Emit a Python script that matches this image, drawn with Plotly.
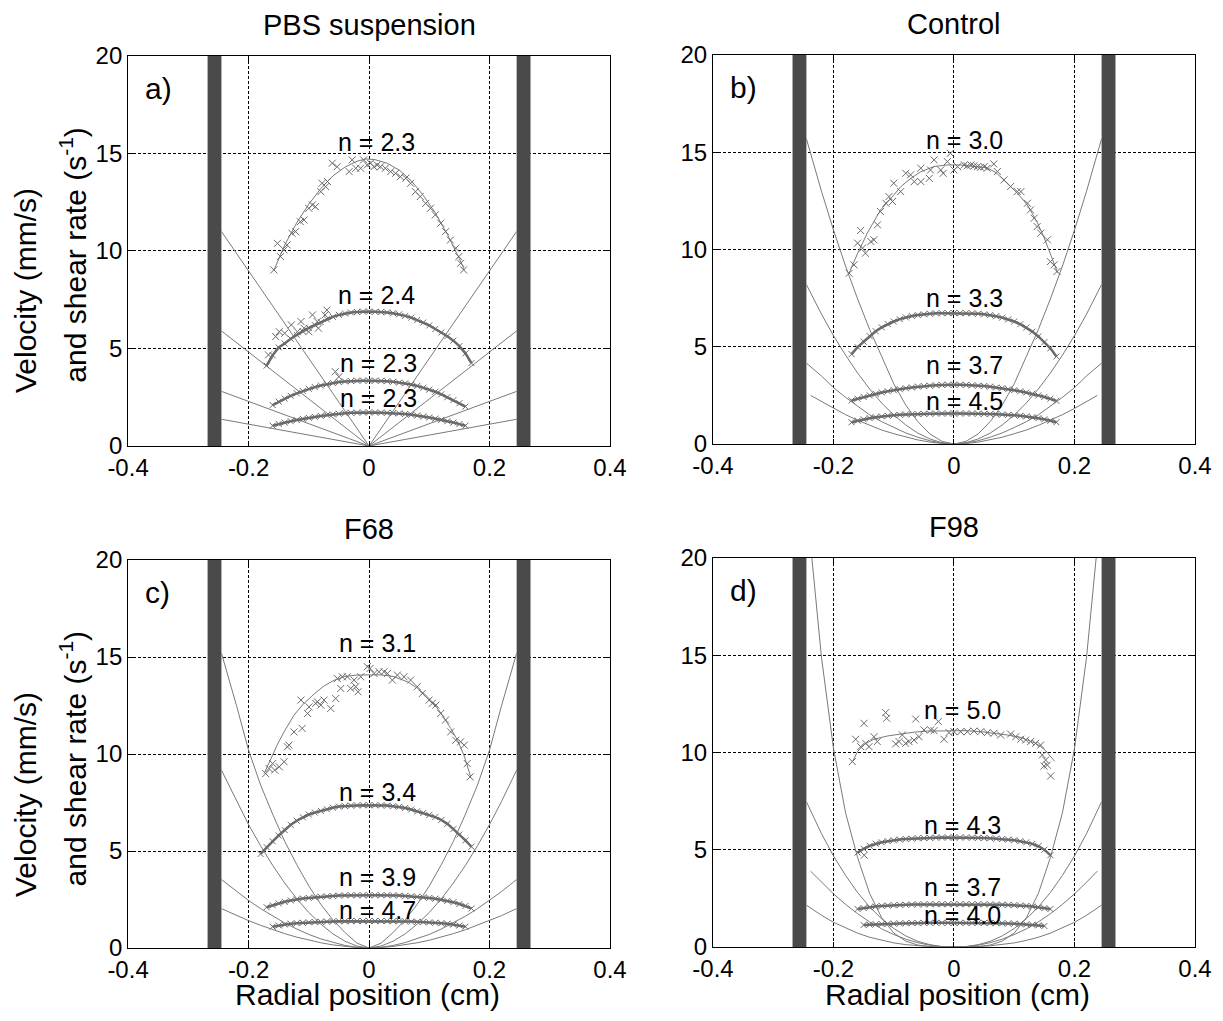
import plotly.graph_objects as go

# ---------------------------------------------------------------- axes / text
X_RANGE = [-0.4, 0.4]
Y_RANGE = [0, 20]
X_TICKS = [-0.4, -0.2, 0, 0.2, 0.4]
X_TICK_TEXT = ["-0.4", "-0.2", "0", "0.2", "0.4"]
Y_TICKS = [0, 5, 10, 15, 20]
Y_TICK_TEXT = ["0", "5", "10", "15", "20"]

PANEL_TITLES = ["PBS suspension", "Control", "F68", "F98"]
PANEL_LETTERS = ["a)", "b)", "c)", "d)"]
X_TITLE = "Radial position (cm)"
Y_TITLE_1 = "Velocity (mm/s)"
Y_TITLE_2 = "and shear rate (s<sup>-1</sup>)"

# channel walls (cm)
WALLS = [[-0.268, -0.245], [0.245, 0.268]]

# ---------------------------------------------------------------- radial grids
R15 = [-0.15, -0.14, -0.13, -0.12, -0.11, -0.10, -0.09, -0.08, -0.07, -0.06, -0.05,
       -0.04, -0.03, -0.02, -0.01, 0.0, 0.01, 0.02, 0.03, 0.04, 0.05, 0.06, 0.07,
       0.08, 0.09, 0.10, 0.11, 0.12, 0.13, 0.14, 0.15]
R16 = [-0.16] + R15 + [0.16]
R17 = [-0.17] + R16 + [0.17]
R18 = [-0.18] + R17

SHEAR_X = [-0.245, -0.22, -0.2, -0.18, -0.16, -0.14, -0.12, -0.1, -0.08, -0.06, -0.04,
           -0.02, 0.0, 0.02, 0.04, 0.06, 0.08, 0.1, 0.12, 0.14, 0.16, 0.18, 0.2, 0.22, 0.245]
SHEAR_X_IN = [-0.238, -0.22, -0.2, -0.18, -0.16, -0.14, -0.12, -0.1, -0.08, -0.06, -0.04,
              -0.02, 0.0, 0.02, 0.04, 0.06, 0.08, 0.1, 0.12, 0.14, 0.16, 0.18, 0.2, 0.22, 0.238]
SHEAR_X_LIN = [-0.245, 0.0, 0.245]

# ---------------------------------------------------------------- a) PBS suspension
A1_X = [-0.158, -0.152, -0.147, -0.141, -0.136, -0.128, -0.122, -0.114, -0.108, -0.1,
        -0.094, -0.089, -0.080, -0.078, -0.072, -0.069, -0.061, -0.053, -0.033, -0.028,
        -0.022, -0.014, -0.009, -0.003, 0.0025, 0.008, 0.0135, 0.019, 0.027, 0.036,
        0.044, 0.052, 0.061, 0.069, 0.077, 0.085, 0.094, 0.102, 0.110, 0.119, 0.127,
        0.135, 0.144, 0.149, 0.152, 0.157]
A1_Y = [9.03, 10.39, 9.71, 10.05, 10.31, 10.91, 10.99, 11.50, 11.59, 12.19,
        12.36, 12.27, 13.04, 13.47, 13.30, 13.56, 14.50, 14.32, 14.07, 14.67,
        14.24, 14.24, 14.67, 14.41, 14.50, 14.32, 14.41, 14.32, 14.24, 14.07,
        13.98, 13.81, 13.73, 13.47, 13.04, 12.79, 12.44, 12.19, 11.85, 11.42, 10.99,
        10.56, 10.14, 9.71, 9.37, 9.03]
A1_FIT_X = [-0.158, -0.14, -0.12, -0.1, -0.08, -0.06, -0.04, -0.02, -0.005, 0.01, 0.03,
            0.05, 0.07, 0.09, 0.11, 0.13, 0.15, 0.158]
A1_FIT_Y = [9.0, 10.3, 11.45, 12.4, 13.2, 13.85, 14.3, 14.6, 14.72, 14.68, 14.5,
            14.15, 13.6, 12.85, 11.95, 10.85, 9.6, 9.05]
A2_Y = [4.12, 4.65, 5.05, 5.25, 5.5, 5.7, 5.88, 6.05, 6.2, 6.35, 6.5, 6.62, 6.72, 6.79,
        6.84, 6.87, 6.89, 6.89, 6.88, 6.87, 6.85, 6.81, 6.75, 6.67, 6.58, 6.46, 6.33,
        6.18, 6.0, 5.82, 5.63, 5.4, 5.12, 4.75, 4.25]
A2_EXTRA_X = [-0.167, -0.155, -0.149, -0.14, -0.129, -0.119, -0.113, -0.108, -0.1,
              -0.094, -0.086, -0.084, -0.073, -0.07]
A2_EXTRA_Y = [4.67, 5.61, 5.86, 5.78, 6.21, 5.86, 6.38, 6.04, 5.86, 6.72, 6.38, 6.04,
              6.72, 6.97]
A3_Y = [2.1, 2.27, 2.43, 2.57, 2.7, 2.82, 2.93, 3.02, 3.1, 3.17, 3.23, 3.28, 3.31, 3.33,
        3.35, 3.35, 3.35, 3.35, 3.34, 3.32, 3.29, 3.25, 3.21, 3.15, 3.08, 2.99, 2.89,
        2.78, 2.65, 2.5, 2.35, 2.19, 2.02]
A3_EXTRA_X = [-0.056, -0.05]
A3_EXTRA_Y = [3.81, 3.55]
A4_Y = [1.04, 1.13, 1.2, 1.27, 1.33, 1.39, 1.44, 1.49, 1.54, 1.58, 1.62, 1.65, 1.68, 1.7,
        1.71, 1.72, 1.72, 1.72, 1.71, 1.7, 1.69, 1.67, 1.64, 1.6, 1.56, 1.51, 1.46, 1.4,
        1.34, 1.27, 1.2, 1.12, 1.04]
A_SHEAR = [[11.0, 0.0, 11.0], [5.9, 0.0, 5.9], [2.8, 0.0, 2.8], [1.37, 0.0, 1.37]]
A_N = ["n = 2.3", "n = 2.4", "n = 2.3", "n = 2.3"]
A_N_POS = [[0.013, 15.6], [0.013, 7.74], [0.016, 4.24], [0.016, 2.45]]

# ---------------------------------------------------------------- b) Control
B1_X = [-0.174, -0.166, -0.155, -0.160, -0.152, -0.147, -0.138, -0.133, -0.127, -0.122,
        -0.113, -0.108, -0.102, -0.100, -0.0885, -0.080, -0.072, -0.066, -0.055, -0.055,
        -0.041, -0.039, -0.033, -0.022, -0.018, -0.011, -0.006, 0.0, 0.006, 0.017,
        0.022, 0.028, 0.033, 0.039, 0.044, 0.050, 0.055, 0.066, 0.072, 0.083, 0.094,
        0.105, 0.111, 0.122, 0.127, 0.133, 0.138, 0.144, 0.155, 0.160, 0.166, 0.171]
B1_Y = [8.78, 9.21, 10.98, 10.33, 10.07, 9.81, 10.41, 10.50, 11.27, 11.95,
        12.38, 12.72, 12.47, 13.41, 12.98, 13.92, 13.84, 13.49, 13.49, 14.18,
        13.66, 14.09, 14.61, 14.09, 13.92, 14.52, 14.95, 14.09, 14.26, 14.35,
        14.30, 14.35, 14.30, 14.26, 14.23, 14.26, 14.18, 14.40, 14.01, 13.58, 13.24,
        12.98, 12.98, 12.38, 12.04, 11.61, 11.18, 10.84, 10.50, 9.38, 9.21, 8.87]
B1_FIT_X = [-0.174, -0.16, -0.144, -0.122, -0.1, -0.0885, -0.07, -0.055, -0.033, -0.01,
            0.01, 0.03, 0.055, 0.07, 0.088, 0.105, 0.122, 0.138, 0.149, 0.16, 0.172]
B1_FIT_Y = [8.8, 9.8, 10.84, 12.03, 12.8, 13.23, 13.7, 14.0, 14.27, 14.35,
            14.35, 14.3, 14.2, 13.95, 13.4, 12.9, 12.29, 11.4, 10.66, 9.8, 8.8]
B2_Y = [4.62, 4.98, 5.26, 5.55, 5.8, 6.0, 6.17, 6.3, 6.42, 6.51, 6.58, 6.63, 6.67, 6.7,
        6.72, 6.73, 6.73, 6.73, 6.73, 6.73, 6.72, 6.7, 6.67, 6.63, 6.57, 6.5, 6.41, 6.3,
        6.16, 5.99, 5.78, 5.53, 5.24, 4.92, 4.5]
B3_Y = [2.24, 2.33, 2.42, 2.5, 2.58, 2.65, 2.71, 2.77, 2.82, 2.87, 2.91, 2.95, 2.98, 3.0,
        3.02, 3.04, 3.05, 3.05, 3.05, 3.04, 3.02, 3.0, 2.98, 2.95, 2.91, 2.87, 2.82, 2.77,
        2.71, 2.65, 2.58, 2.5, 2.42, 2.33, 2.22]
B4_Y = [1.12, 1.2, 1.27, 1.33, 1.38, 1.42, 1.45, 1.48, 1.5, 1.52, 1.53, 1.54, 1.55, 1.56,
        1.57, 1.57, 1.57, 1.57, 1.57, 1.57, 1.57, 1.56, 1.55, 1.54, 1.53, 1.52, 1.5, 1.48,
        1.45, 1.42, 1.38, 1.33, 1.27, 1.2, 1.12]
B_SHEAR_1 = [15.7, 13.0, 11.0, 9.15, 7.46, 5.89, 4.5, 3.1, 2.0, 1.15, 0.52, 0.14, 0.0,
             0.14, 0.52, 1.15, 2.0, 3.1, 4.5, 5.89, 7.46, 9.15, 11.0, 13.0, 15.7]
B_SHEAR_2 = [8.2, 6.68, 5.57, 4.57, 3.65, 2.83, 2.11, 1.49, 0.98, 0.56, 0.26, 0.07, 0.0,
             0.07, 0.26, 0.56, 0.98, 1.49, 2.11, 2.83, 3.65, 4.57, 5.57, 6.68, 8.2]
B_SHEAR_3 = [4.16, 3.5, 2.9, 2.4, 1.95, 1.5, 1.15, 0.85, 0.57, 0.35, 0.17, 0.05, 0.0,
             0.05, 0.17, 0.35, 0.57, 0.85, 1.15, 1.5, 1.95, 2.4, 2.9, 3.5, 4.16]
B_SHEAR_4 = [2.5, 2.18, 1.83, 1.51, 1.22, 0.96, 0.72, 0.53, 0.35, 0.21, 0.10, 0.03, 0.0,
             0.03, 0.10, 0.21, 0.35, 0.53, 0.72, 0.96, 1.22, 1.51, 1.83, 2.18, 2.5]
B_N = ["n = 3.0", "n = 3.3", "n = 3.7", "n = 4.5"]
B_N_POS = [[0.017, 15.63], [0.017, 7.5], [0.017, 4.08], [0.017, 2.19]]

# ---------------------------------------------------------------- c) F68
C1_X = [-0.1715, -0.166, -0.160, -0.1566, -0.149, -0.141, -0.1355, -0.133, -0.1245,
        -0.111, -0.113, -0.102, -0.0996, -0.0885, -0.080, -0.0858, -0.0747, -0.0636,
        -0.0553, -0.0526, -0.047, -0.0443, -0.036, -0.0304, -0.0221, -0.0183, -0.0249,
        -0.0138, -0.0028, 0.0017, 0.0083, 0.0166, 0.0249, 0.0304, 0.0387, 0.047, 0.058,
        0.069, 0.080, 0.0885, 0.0996, 0.105, 0.111, 0.119, 0.127, 0.1355, 0.144, 0.152,
        0.158, 0.163, 0.1676]
C1_Y = [8.99, 9.25, 9.51, 9.17, 9.34, 9.60, 10.37, 10.46, 11.14,
        11.32, 12.78, 12.09, 12.43, 12.61, 12.52, 12.69, 12.78, 12.35,
        12.86, 13.89, 13.38, 13.98, 13.98, 13.38, 13.47, 13.21, 13.81,
        13.98, 14.50, 14.41, 14.15, 14.24, 14.24, 14.15, 13.81, 14.07, 13.98,
        13.81, 13.47, 13.12, 12.78, 12.61, 12.52, 12.09, 11.75, 11.14, 10.71, 10.63,
        10.46, 9.51, 8.82]
C1_FIT_X = [-0.174, -0.16, -0.152, -0.14, -0.1245, -0.11, -0.091, -0.075, -0.058, -0.04,
            -0.02, 0.0, 0.02, 0.04, 0.064, 0.08, 0.097, 0.11, 0.124, 0.136, 0.147, 0.158,
            0.169]
C1_FIT_Y = [9.0, 10.0, 10.5, 11.2, 12.0, 12.55, 13.1, 13.5, 13.8, 14.0,
            14.07, 14.08, 14.08, 14.0, 13.72, 13.4, 12.95, 12.5, 11.9, 11.3, 10.7, 9.9,
            8.8]
C2_Y = [4.85, 5.2, 5.5, 5.8, 6.08, 6.35, 6.56, 6.74, 6.88, 6.98, 7.07, 7.15, 7.23, 7.29,
        7.32, 7.34, 7.35, 7.36, 7.36, 7.36, 7.35, 7.34, 7.31, 7.28, 7.22, 7.14, 7.05,
        6.96, 6.86, 6.75, 6.6, 6.4, 6.13, 5.85, 5.55, 5.22]
C3_Y = [2.1, 2.2, 2.3, 2.38, 2.45, 2.51, 2.55, 2.58, 2.61, 2.64, 2.66, 2.68, 2.7, 2.71,
        2.72, 2.72, 2.72, 2.72, 2.72, 2.72, 2.72, 2.71, 2.7, 2.68, 2.66, 2.64, 2.61, 2.58,
        2.54, 2.49, 2.43, 2.36, 2.27, 2.17, 2.04]
C4_Y = [1.1, 1.16, 1.21, 1.25, 1.28, 1.3, 1.32, 1.34, 1.35, 1.36, 1.37, 1.38, 1.38, 1.39,
        1.39, 1.39, 1.39, 1.39, 1.39, 1.39, 1.38, 1.38, 1.37, 1.36, 1.35, 1.34, 1.32, 1.3,
        1.28, 1.25, 1.21, 1.16, 1.1]
C_SHEAR_1 = [15.2, 12.5, 10.2, 8.4, 6.9, 5.5, 4.3, 3.2, 2.25, 1.45, 0.8, 0.25, 0.0,
             0.25, 0.8, 1.45, 2.25, 3.2, 4.3, 5.5, 6.9, 8.4, 10.2, 12.5, 15.2]
C_SHEAR_2 = [9.17, 7.56, 6.36, 5.27, 4.26, 3.35, 2.54, 1.83, 1.23, 0.73, 0.35, 0.1, 0.0,
             0.1, 0.35, 0.73, 1.23, 1.83, 2.54, 3.35, 4.26, 5.27, 6.36, 7.56, 9.17]
C_SHEAR_3 = [3.53, 2.91, 2.45, 2.03, 1.64, 1.29, 0.98, 0.70, 0.47, 0.28, 0.13, 0.04, 0.0,
             0.04, 0.13, 0.28, 0.47, 0.70, 0.98, 1.29, 1.64, 2.03, 2.45, 2.91, 3.53]
C_SHEAR_4 = [2.03, 1.67, 1.41, 1.17, 0.94, 0.74, 0.56, 0.40, 0.27, 0.16, 0.08, 0.02, 0.0,
             0.02, 0.08, 0.16, 0.27, 0.40, 0.56, 0.74, 0.94, 1.17, 1.41, 1.67, 2.03]
C_N = ["n = 3.1", "n = 3.4", "n = 3.9", "n = 4.7"]
C_N_POS = [[0.014, 15.7], [0.014, 8.05], [0.014, 3.66], [0.014, 1.94]]

# ---------------------------------------------------------------- d) F98
D1_X = [-0.1687, -0.1632, -0.1549, -0.1494, -0.1466, -0.1411, -0.1328, -0.1273, -0.1134,
        -0.1118, -0.0968, -0.0913, -0.0858, -0.0802, -0.0747, -0.0664, -0.0581, -0.0636,
        -0.0498, -0.0387, -0.0332, -0.026, -0.0166, -0.0083, 0.0, 0.011, 0.0221, 0.0332,
        0.0443, 0.0553, 0.0664, 0.0775, 0.094, 0.1024, 0.1107, 0.119, 0.1272, 0.1355,
        0.1438, 0.1466, 0.1521, 0.1549, 0.1494, 0.1604]
D1_Y = [9.53, 10.68, 10.30, 11.50, 10.47, 10.30, 10.81, 10.56, 12.05,
        11.76, 10.44, 10.56, 10.90, 10.47, 10.56, 10.64, 10.81, 11.72,
        11.16, 11.16, 11.12, 11.59, 10.68, 11.02, 11.07, 11.07, 11.07, 11.10,
        11.07, 11.02, 10.99, 10.90, 10.95, 10.81, 10.68, 10.64, 10.56, 10.47,
        10.38, 9.87, 9.61, 9.35, 9.30, 8.79]
D1_FIT_X = [-0.169, -0.16, -0.15, -0.133, -0.11, -0.0885, -0.065, -0.044, -0.02, 0.0,
            0.02, 0.044, 0.065, 0.0885, 0.11, 0.122, 0.135, 0.144, 0.152, 0.158, 0.167]
D1_FIT_Y = [9.5, 10.05, 10.4, 10.68, 10.85, 10.95, 11.05, 11.1, 11.12, 11.12,
            11.12, 11.07, 11.0, 10.9, 10.78, 10.64, 10.48, 10.3, 10.1, 9.87, 9.55]
D2_Y = [4.85, 5.05, 5.2, 5.31, 5.38, 5.44, 5.49, 5.52, 5.55, 5.57, 5.59, 5.6, 5.61, 5.62,
        5.63, 5.63, 5.63, 5.63, 5.63, 5.62, 5.61, 5.6, 5.59, 5.57, 5.55, 5.52, 5.49, 5.44,
        5.38, 5.3, 5.18, 5.0, 4.72]
D2_EXTRA_X = [-0.149]
D2_EXTRA_Y = [4.72]
D3_Y = [1.95, 2.0, 2.04, 2.08, 2.11, 2.13, 2.15, 2.16, 2.17, 2.18, 2.19, 2.19, 2.2, 2.2,
        2.2, 2.2, 2.2, 2.2, 2.2, 2.2, 2.2, 2.19, 2.19, 2.18, 2.17, 2.16, 2.15, 2.13,
        2.11, 2.08, 2.04, 2.0, 1.95]
D4_Y = [1.13, 1.15, 1.17, 1.18, 1.19, 1.2, 1.21, 1.22, 1.23, 1.23, 1.24, 1.24, 1.24, 1.24,
        1.24, 1.24, 1.24, 1.24, 1.24, 1.24, 1.24, 1.23, 1.23, 1.22, 1.21, 1.2, 1.18, 1.16,
        1.14, 1.11, 1.08]
D_SHEAR_1 = [22.9, 14.9, 10.2, 6.9, 4.6, 2.75, 1.5, 0.72, 0.3, 0.1, 0.02, 0.0, 0.0,
             0.0, 0.02, 0.1, 0.3, 0.72, 1.5, 2.75, 4.6, 6.9, 10.2, 14.9, 22.9]
D_SHEAR_2 = [7.47, 5.83, 4.68, 3.68, 2.8, 2.06, 1.45, 0.95, 0.57, 0.29, 0.12, 0.02, 0.0,
             0.02, 0.12, 0.29, 0.57, 0.95, 1.45, 2.06, 2.8, 3.68, 4.68, 5.83, 7.47]
D_SHEAR_3 = [3.9, 3.33, 2.73, 2.19, 1.71, 1.29, 0.93, 0.64, 0.40, 0.22, 0.09, 0.02, 0.0,
             0.02, 0.09, 0.22, 0.40, 0.64, 0.93, 1.29, 1.71, 2.19, 2.73, 3.33, 3.9]
D_SHEAR_4 = [2.15, 1.63, 1.27, 0.97, 0.71, 0.50, 0.34, 0.21, 0.12, 0.06, 0.02, 0.0, 0.0,
             0.0, 0.02, 0.06, 0.12, 0.21, 0.34, 0.50, 0.71, 0.97, 1.27, 1.63, 2.15]
D_N = ["n = 5.0", "n = 4.3", "n = 3.7", "n = 4.0"]
D_N_POS = [[0.014, 12.19], [0.014, 6.27], [0.014, 3.09], [0.014, 1.63]]

# ---------------------------------------------------------------- styling
FONT = "Liberation Sans, Arial, Helvetica, sans-serif"
INK = "#000000"
MARK_GRAY = "#6a6a6a"
LINE_GRAY = "#7a7a7a"
WALL_FILL = "#4a4a4a"

PANELS = [
    dict(
        top=(A1_X, A1_Y, A1_FIT_X, A1_FIT_Y),
        bands=[(R17, A2_Y), (R16, A3_Y), (R16, A4_Y)],
        extras=[(A2_EXTRA_X, A2_EXTRA_Y), (A3_EXTRA_X, A3_EXTRA_Y)],
        shear=[(SHEAR_X_LIN, s) for s in A_SHEAR],
        labels=A_N, label_pos=A_N_POS,
        dom_x=[0.1047, 0.4988], dom_y=[0.5632, 0.9452],
    ),
    dict(
        top=(B1_X, B1_Y, B1_FIT_X, B1_FIT_Y),
        bands=[(R17, B2_Y), (R17, B3_Y), (R17, B4_Y)],
        extras=[],
        shear=[(SHEAR_X, B_SHEAR_1), (SHEAR_X, B_SHEAR_2), (SHEAR_X, B_SHEAR_3),
               (SHEAR_X_IN, B_SHEAR_4)],
        labels=B_N, label_pos=B_N_POS,
        dom_x=[0.583, 0.9771], dom_y=[0.5651, 0.9461],
    ),
    dict(
        top=(C1_X, C1_Y, C1_FIT_X, C1_FIT_Y),
        bands=[(R18, C2_Y), (R17, C3_Y), (R16, C4_Y)],
        extras=[],
        shear=[(SHEAR_X, C_SHEAR_1), (SHEAR_X, C_SHEAR_2), (SHEAR_X, C_SHEAR_3),
               (SHEAR_X, C_SHEAR_4)],
        labels=C_N, label_pos=C_N_POS,
        dom_x=[0.1047, 0.4988], dom_y=[0.0715, 0.4515],
    ),
    dict(
        top=(D1_X, D1_Y, D1_FIT_X, D1_FIT_Y),
        bands=[(R16, D2_Y), (R16, D3_Y), (R15, D4_Y)],
        extras=[(D2_EXTRA_X, D2_EXTRA_Y)],
        shear=[(SHEAR_X, D_SHEAR_1), (SHEAR_X, D_SHEAR_2), (SHEAR_X_IN, D_SHEAR_3),
               (SHEAR_X, D_SHEAR_4)],
        labels=D_N, label_pos=D_N_POS,
        dom_x=[0.583, 0.9771], dom_y=[0.0725, 0.4535],
    ),
]

fig = go.Figure()
layout = dict(
    width=1223, height=1021,
    margin=dict(l=0, r=0, t=0, b=0, pad=0, autoexpand=False),
    paper_bgcolor="white", plot_bgcolor="white",
    showlegend=False,
    font=dict(family=FONT, color=INK, size=24),
)
shapes, annotations = [], []


def marker(size):
    return dict(symbol="x-thin", size=size, color=MARK_GRAY,
                line=dict(width=1, color=MARK_GRAY))


for i, p in enumerate(PANELS):
    k = "" if i == 0 else str(i + 1)
    xa, ya = "x" + k, "y" + k

    # shear-rate profiles
    for sx, sy in p["shear"]:
        fig.add_trace(go.Scatter(x=sx, y=sy, mode="lines", xaxis=xa, yaxis=ya,
                                 line=dict(color=LINE_GRAY, width=1), hoverinfo="skip"))

    # fastest velocity profile: fitted curve + measured points
    tx, ty, fx, fy = p["top"]
    fig.add_trace(go.Scatter(x=fx, y=fy, mode="lines", xaxis=xa, yaxis=ya,
                             line=dict(color=LINE_GRAY, width=1)))
    fig.add_trace(go.Scatter(x=tx, y=ty, mode="markers", xaxis=xa, yaxis=ya,
                             marker=marker(7)))

    # slower velocity profiles (dense measurements)
    for bx, by in p["bands"]:
        fig.add_trace(go.Scatter(x=bx, y=by, mode="lines+markers", xaxis=xa, yaxis=ya,
                                 line=dict(color=MARK_GRAY, width=2.5),
                                 marker=marker(6)))
    for ex, ey in p["extras"]:
        fig.add_trace(go.Scatter(x=ex, y=ey, mode="markers", xaxis=xa, yaxis=ya,
                                 marker=marker(7)))

    axis_common = dict(
        showline=True, linecolor=INK, linewidth=1, mirror="ticks",
        ticks="inside", ticklen=5, tickcolor=INK,
        showgrid=True, gridcolor=INK, gridwidth=1, griddash="3px,2px",
        zeroline=False, tickfont=dict(size=24, family=FONT, color=INK),
        fixedrange=True, automargin=False,
    )
    layout["xaxis" + k] = dict(axis_common, domain=p["dom_x"], anchor=ya,
                               range=X_RANGE, tickmode="array",
                               tickvals=X_TICKS, ticktext=X_TICK_TEXT)
    layout["yaxis" + k] = dict(axis_common, domain=p["dom_y"], anchor=xa,
                               range=Y_RANGE, tickmode="array",
                               tickvals=Y_TICKS, ticktext=Y_TICK_TEXT)

    # channel walls
    for w0, w1 in WALLS:
        shapes.append(dict(type="rect", xref=xa, yref=ya, x0=w0, x1=w1,
                           y0=Y_RANGE[0], y1=Y_RANGE[1], fillcolor=WALL_FILL,
                           line=dict(width=0), layer="between"))

    # flow-index labels
    for txt, (lx, ly) in zip(p["labels"], p["label_pos"]):
        annotations.append(dict(text=txt, x=lx, y=ly, xref=xa, yref=ya,
                                showarrow=False, xanchor="center", yanchor="middle",
                                font=dict(size=25, family=FONT, color=INK)))

    # panel letter
    annotations.append(dict(text=PANEL_LETTERS[i], x=-0.375, y=18.35, xref=xa, yref=ya,
                            showarrow=False, xanchor="left", yanchor="middle",
                            font=dict(size=30, family=FONT, color=INK)))

    # panel title
    cx = (p["dom_x"][0] + p["dom_x"][1]) / 2
    annotations.append(dict(text=PANEL_TITLES[i], x=cx, y=p["dom_y"][1] + 0.03,
                            xref="paper", yref="paper", showarrow=False,
                            xanchor="center", yanchor="middle",
                            font=dict(size=29, family=FONT, color=INK)))

# y-axis titles for the left column, x-axis titles for the bottom row
for y1, y2 in [(0.715, 0.750), (0.2214, 0.2566)]:
    annotations.append(dict(text=Y_TITLE_1, x=0.0213, y=y1, xref="paper", yref="paper",
                            showarrow=False, textangle=-90, xanchor="center",
                            yanchor="middle", font=dict(size=30, family=FONT, color=INK)))
    annotations.append(dict(text=Y_TITLE_2, x=0.060, y=y2, xref="paper", yref="paper",
                            showarrow=False, textangle=-90, xanchor="center",
                            yanchor="middle", font=dict(size=30, family=FONT, color=INK)))
for cx in [0.3001, 0.7833]:
    annotations.append(dict(text=X_TITLE, x=cx, y=0.0255, xref="paper", yref="paper",
                            showarrow=False, xanchor="center", yanchor="middle",
                            font=dict(size=30, family=FONT, color=INK)))

layout["shapes"] = shapes
layout["annotations"] = annotations
fig.update_layout(**layout)
fig.write_html("out.html", config={"displayModeBar": False})
